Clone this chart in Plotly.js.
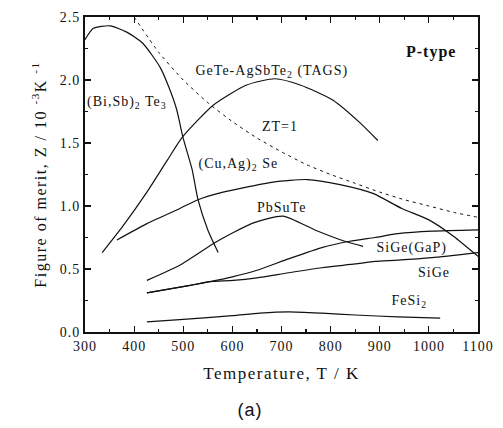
<!DOCTYPE html>
<html>
<head>
<meta charset="utf-8">
<script src="https://cdn.plot.ly/plotly-3.0.1.min.js"></script>
<style>
html,body{margin:0;padding:0;background:#fff;}
#chart{width:503px;height:428px;}
#chart .xtick text, #chart .ytick text{letter-spacing:1px;}
#chart .annotation-text{letter-spacing:1px;}
#chart .xtitle, #chart .ytitle{letter-spacing:1.5px;}
</style>
</head>
<body>
<div id="chart"></div>
<script>
// Temperature (K) and figure of merit Z (10^-3 K^-1)
const biSbTeT = [300,317,351,385,418,453,473,487,499,518,530,550,565,571];
const biSbTeZ = [2.32,2.41,2.43,2.38,2.29,2.10,1.92,1.76,1.55,1.29,1.05,0.81,0.68,0.63];

const tagsT = [335,377,426,467,499,561,629,687,738,805,860,896];
const tagsZ = [0.63,0.84,1.11,1.36,1.55,1.80,1.96,2.01,1.96,1.84,1.66,1.52];

const cuAgSeT = [365,426,493,530,581,629,683,752,819,886,945,1000,1050,1100];
const cuAgSeZ = [0.73,0.86,0.98,1.05,1.11,1.15,1.19,1.21,1.17,1.10,0.98,0.89,0.76,0.60];

const pbSnTeT = [426,493,565,602,646,703,768,829,866];
const pbSnTeZ = [0.41,0.53,0.71,0.79,0.87,0.92,0.81,0.72,0.68];

const siGeGaPT = [426,514,554,602,650,714,782,839,890,937,1006,1100];
const siGeGaPZ = [0.31,0.37,0.40,0.44,0.49,0.58,0.67,0.72,0.75,0.78,0.80,0.81];

const siGeT = [426,514,554,602,650,714,782,850,890,937,1006,1100];
const siGeZ = [0.31,0.37,0.40,0.41,0.43,0.47,0.51,0.54,0.56,0.57,0.59,0.63];

const feSi2T = [426,500,600,656,714,782,850,937,1023];
const feSi2Z = [0.08,0.10,0.13,0.15,0.16,0.15,0.135,0.12,0.11];

const zt1T = [400,450,500,550,600,650,700,750,800,850,900,950,1000,1050,1100];
const zt1Z = [2.50,2.22,2.00,1.82,1.67,1.54,1.43,1.33,1.25,1.18,1.11,1.05,1.00,0.95,0.91];

const xTickVals = [300,400,500,600,700,800,900,1000,1100];
const yTickVals = [0.0,0.5,1.0,1.5,2.0,2.5];
const yTickText = ['0.0','0.5','1.0','1.5','2.0','2.5'];

const solid = {color:'#111', width:1.2, shape:'spline', smoothing:0.6};
function tr(x, y, line) {
  return {x:x, y:y, type:'scatter', mode:'lines', line:line, showlegend:false, hoverinfo:'skip'};
}
const data = [
  tr(biSbTeT, biSbTeZ, solid),
  tr(tagsT, tagsZ, solid),
  tr(cuAgSeT, cuAgSeZ, solid),
  tr(pbSnTeT, pbSnTeZ, solid),
  tr(siGeGaPT, siGeGaPZ, solid),
  tr(siGeT, siGeZ, solid),
  tr(feSi2T, feSi2Z, solid),
  tr(zt1T, zt1Z, {color:'#111', width:1, dash:'3px,4px', shape:'spline', smoothing:0.6})
];

const serif = 'Liberation Serif, Times New Roman, serif';
const lab = {family:serif, size:14, color:'#111'};
function ann(text, x, y, xanchor, font) {
  return {text:text, x:x, y:y, xref:'x', yref:'y', showarrow:false,
          xanchor:xanchor, yanchor:'middle', font:font || lab};
}

const layout = {
  width:503, height:428,
  margin:{l:85, r:25, t:17, b:96},
  paper_bgcolor:'#fff', plot_bgcolor:'#fff',
  font:{family:serif, color:'#111'},
  xaxis:{
    range:[300,1100], tickvals:xTickVals, ticks:'inside', ticklen:6, tickwidth:1.2,
    tickcolor:'#111', showline:true, linecolor:'#111', linewidth:2, mirror:'ticks',
    showgrid:false, zeroline:false, tickfont:{family:serif, size:14, color:'#111'},
    minor:{dtick:50, ticks:'inside', ticklen:3, tickcolor:'#111', showgrid:false},
    title:{text:'Temperature, T / K', font:{family:serif, size:17, color:'#111'}, standoff:14}
  },
  yaxis:{
    range:[0,2.5], tickvals:yTickVals, ticktext:yTickText, ticks:'inside', ticklen:6, tickwidth:1.2,
    tickcolor:'#111', showline:true, linecolor:'#111', linewidth:2, mirror:'ticks',
    showgrid:false, zeroline:false, tickfont:{family:serif, size:14, color:'#111'},
    minor:{dtick:0.25, ticks:'inside', ticklen:3, tickcolor:'#111', showgrid:false},
    title:{text:'Figure of merit, Z / 10 <sup>-3</sup>K <sup>-1</sup>', font:{family:serif, size:16, color:'#111'}, standoff:12}
  },
  annotations:[
    ann('(Bi,Sb)<sub>2</sub> Te<sub>3</sub>', 312, 1.82, 'left'),
    ann('GeTe-AgSbTe<sub>2</sub> (TAGS)', 540, 2.07, 'left'),
    ann('ZT=1', 697, 1.63, 'center'),
    ann('(Cu,Ag)<sub>2</sub> Se', 538, 1.33, 'left'),
    ann('PbSuTe', 699, 0.99, 'center'),
    ann('SiGe(GaP)', 966, 0.67, 'center'),
    ann('SiGe', 1011, 0.47, 'center'),
    ann('FeSi<sub>2</sub>', 925, 0.24, 'left'),
    ann('<b>P-type</b>', 1004, 2.22, 'center', {family:serif, size:16, color:'#111'}),
    {text:'(a)', xref:'paper', yref:'paper', x:0.42, y:-0.248, showarrow:false,
     xanchor:'center', yanchor:'middle', font:{family:'Liberation Sans, Arial, sans-serif', size:18, color:'#111'}}
  ]
};

Plotly.newPlot('chart', data, layout, {displayModeBar:false, staticPlot:true});
</script>
</body>
</html>
